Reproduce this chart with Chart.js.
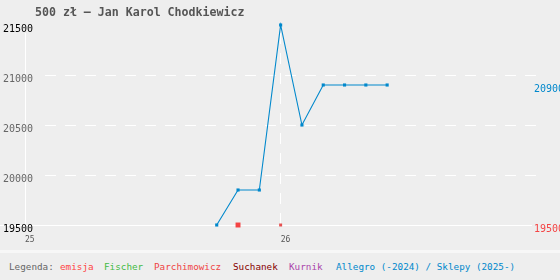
<!DOCTYPE html>
<html><head><meta charset="utf-8">
<script src="https://cdn.jsdelivr.net/npm/chart.js@4/dist/chart.umd.min.js"></script>
<style>
html,body{margin:0;padding:0;background:#eeeeee;width:560px;height:280px;overflow:hidden;font-family:"DejaVu Sans Mono",monospace;}
#wrap{position:relative;width:560px;height:250px;}
#title{position:absolute;left:35px;top:5px;font-weight:bold;font-size:11.6px;line-height:14px;color:#555;white-space:pre;}
#legend{position:relative;height:27px;border-top:3px solid #f7f7f7;font-size:9.3px;line-height:27px;white-space:pre;}
#legend span{position:absolute;top:0;}
</style></head><body>
<div id="wrap"><canvas id="c" width="560" height="250"></canvas><div id="title">500 zł – Jan Karol Chodkiewicz</div></div>
<div id="legend"><span style="left:9px;color:#666">Legenda:</span><span style="left:60px;color:#f44">emisja</span><span style="left:104px;color:#4b4">Fischer</span><span style="left:154px;color:#e44">Parchimowicz</span><span style="left:233px;color:#800">Suchanek</span><span style="left:289px;color:#a4a">Kurnik</span><span style="left:336px;color:#08c">Allegro (-2024) / Sklepy (2025-)</span></div>
<script>
// months counted from January 2025 (0 = Jan 2025, 12 = Jan 2026)
const yearTicks = [0, 12];
const yearLabels = ['25', '26'];
const yTicksMin = 19500;
const yTicksMax = 21500;
const yStep = 500;
const allegroMonths = [9, 10, 11, 12, 13, 14, 15, 16, 17];
const allegroValues = [19500, 19850, 19850, 21500, 20500, 20900, 20900, 20900, 20900];
const emisjaMonths = [10];
const emisjaValues = [19500];
const parchMonths = [12];
const parchValues = [19500];

const BLUE = '#0088cc', RED = '#f44444';

const gridPlugin = {
  id: 'customGrid',
  beforeDraw(chart) {
    const {ctx, scales: {x, y}, chartArea: a} = chart;
    ctx.save();
    ctx.strokeStyle = '#ffffff';
    ctx.lineWidth = 1;
    ctx.setLineDash([11, 9]);
    y.ticks.forEach(t => {
      if (t.value === y.min || t.value === y.max) return;
      const py = Math.floor(y.getPixelForValue(t.value)) + 0.5;
      ctx.beginPath(); ctx.moveTo(45, py); ctx.lineTo(537, py); ctx.stroke();
    });
    yearTicks.forEach((v, i) => {
      const px = Math.floor(x.getPixelForValue(v)) + 0.5;
      ctx.setLineDash(i === 0 ? [] : [11, 9]);
      ctx.beginPath(); ctx.moveTo(px, 33); ctx.lineTo(px, a.bottom); ctx.stroke();
    });
    ctx.setLineDash([]);
    const by = Math.floor(y.getPixelForValue(y.min)) + 0.5;
    ctx.beginPath(); ctx.moveTo(0, by); ctx.lineTo(a.right, by); ctx.stroke();
    ctx.restore();
  }
};

const font = (s) => ({family: 'DejaVu Sans Mono', size: s});

new Chart(document.getElementById('c'), {
  type: 'line',
  data: {
    datasets: [
      {label: 'emisja', data: emisjaMonths.map((m, i) => ({x: m, y: emisjaValues[i]})), showLine: false,
       pointStyle: 'rect', pointRadius: 3.5, pointBorderWidth: 0, backgroundColor: RED, borderColor: RED, clip: false},
      {label: 'Parchimowicz', data: parchMonths.map((m, i) => ({x: m, y: parchValues[i]})), showLine: false,
       pointStyle: 'rect', pointRadius: 2.1, pointBorderWidth: 0, backgroundColor: '#e65050', borderColor: '#e65050', clip: false},
      {label: 'Allegro', data: allegroMonths.map((m, i) => ({x: m, y: allegroValues[i]})),
       borderColor: BLUE, backgroundColor: BLUE, borderWidth: 1.1, tension: 0,
       pointStyle: 'rect', pointRadius: 2.2, pointBorderWidth: 0, clip: false}
    ]
  },
  options: {
    responsive: false, animation: false, devicePixelRatio: 1,
    layout: {padding: {left: 3, top: 25, right: 0, bottom: 0}},
    plugins: {legend: {display: false}, tooltip: {enabled: false}, title: {display: false}},
    scales: {
      x: {
        type: 'linear', min: 0, max: 23.8,
        grid: {display: false, drawTicks: false}, border: {display: false},
        afterBuildTicks: s => { s.ticks = yearTicks.map(v => ({value: v})); },
        afterFit: s => { s.height = 25; },
        ticks: {autoSkip: false, maxRotation: 0, align: 'start', padding: 10, color: '#555', font: font(8),
                callback: v => yearLabels[yearTicks.indexOf(v)]}
      },
      y: {
        position: 'left', min: yTicksMin, max: yTicksMax,
        grid: {display: false, drawTicks: false}, border: {display: false},
        afterFit: s => { s.width = 22; },
        ticks: {stepSize: yStep, mirror: true, labelOffset: 4, padding: -22, font: font(10),
                callback: v => String(v),
                color: c => (c.tick.value === yTicksMin || c.tick.value === yTicksMax) ? '#000' : '#666'}
      },
      y2: {
        position: 'right', min: yTicksMin, max: yTicksMax,
        grid: {display: false, drawTicks: false}, border: {display: false},
        afterBuildTicks: s => { s.ticks = [{value: allegroValues[allegroValues.length - 1]}, {value: parchValues[parchValues.length - 1]}]; },
        afterFit: s => { s.width = 28; },
        ticks: {autoSkip: false, padding: 2, labelOffset: 4, font: font(10),
                color: c => c.index === 0 ? BLUE : RED,
                callback: v => String(v)}
      }
    }
  },
  plugins: [gridPlugin]
});
</script>
</body></html>
